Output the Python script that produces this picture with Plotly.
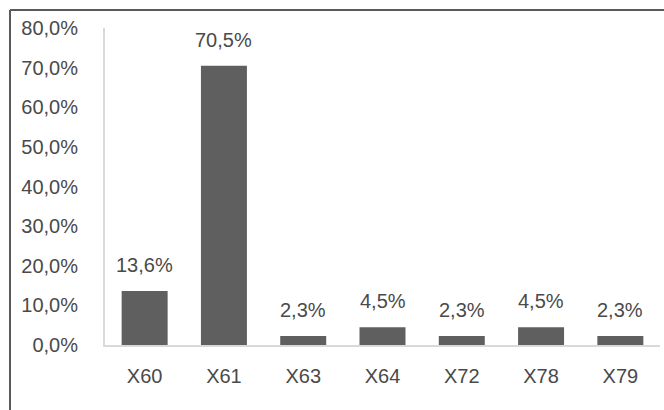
import plotly.graph_objects as go

categories = ["X60", "X61", "X63", "X64", "X72", "X78", "X79"]
values = [0.136, 0.705, 0.023, 0.045, 0.023, 0.045, 0.023]
value_labels = ["13,6%", "70,5%", "2,3%", "4,5%", "2,3%", "4,5%", "2,3%"]

W, H = 664, 410
ml, mr, mt, mb = 105, 4, 28, 65
pw, ph = W - ml - mr, H - mt - mb

font = dict(family="Liberation Sans, Arial, sans-serif", size=20, color="#4a4a4a")

fig = go.Figure(go.Bar(x=categories, y=values, marker=dict(color="#5f5f5f", line=dict(width=0))))

for c, v, t in zip(categories, values, value_labels):
    fig.add_annotation(x=c, y=v, text=t, showarrow=False, yanchor="bottom",
                       yshift=13, font=font)

# outer border (top and left edges)
bx = (10 - ml) / pw
by = (H - mb - 10) / ph
fig.add_shape(type="line", xref="paper", yref="paper", x0=bx, x1=1.1, y0=by, y1=by,
              line=dict(color="#5a5a5a", width=2))
fig.add_shape(type="line", xref="paper", yref="paper", x0=bx, x1=bx, y0=by, y1=-0.3,
              line=dict(color="#5a5a5a", width=2))

fig.update_layout(
    width=W, height=H,
    margin=dict(l=ml, r=mr, t=mt, b=mb),
    plot_bgcolor="white", paper_bgcolor="white",
    separators=",.",
    bargap=0.42,
    showlegend=False,
    font=font,
)
fig.update_yaxes(range=[0, 0.8], dtick=0.1, tickformat=".1%", showgrid=False,
                 zeroline=False, showline=True, linecolor="#d9d9d9", linewidth=2,
                 ticks="", ticklabelstandoff=21, tickfont=font)
fig.update_xaxes(showgrid=False, showline=True, linecolor="#d9d9d9", linewidth=2,
                 ticks="", ticklabelstandoff=12, tickfont=font)

fig.write_html("out.html")
